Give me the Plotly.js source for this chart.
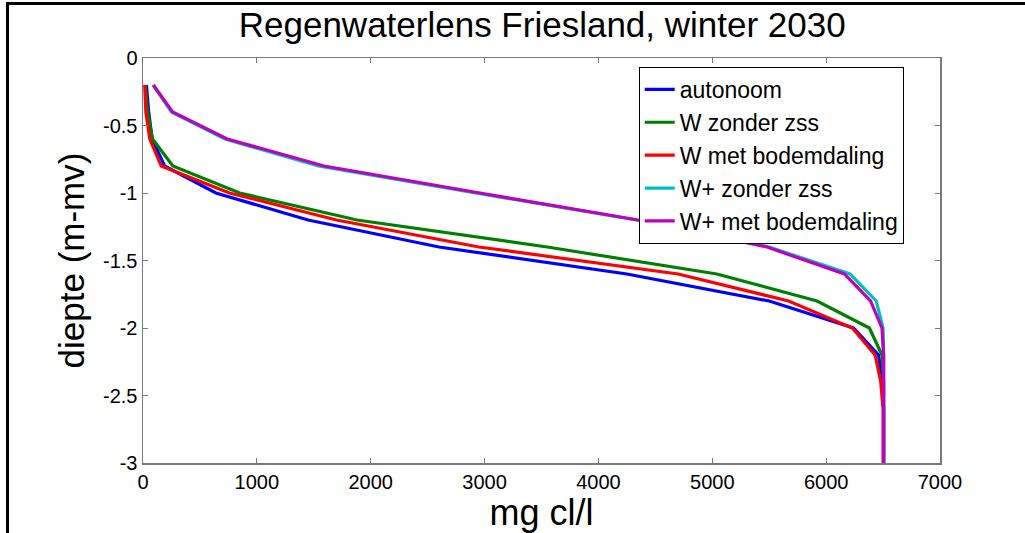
<!DOCTYPE html>
<html>
<head>
<meta charset="utf-8">
<script src="https://cdn.plot.ly/plotly-3.0.1.min.js"></script>
<style>
html,body{margin:0;padding:0;background:#fff;}
#wrap{position:relative;width:1025px;height:533px;overflow:hidden;}
#chart{position:absolute;left:0;top:0;width:1025px;height:533px;}
#frameL{position:absolute;left:6px;top:2px;width:3px;height:531px;background:#000;}
#frameT{position:absolute;left:6px;top:2px;width:1019px;height:3px;background:#000;}
</style>
</head>
<body>
<div id="wrap">
<div id="chart"></div>
<div id="frameL"></div>
<div id="frameT"></div>
</div>
<script>
// Series names
const seriesNames = ["autonoom", "W zonder zss", "W met bodemdaling", "W+ zonder zss", "W+ met bodemdaling"];

// Chloride concentration (mg cl/l) and depth (m-mv) per series
const autonoomX   = [30, 50, 80, 190, 640, 1450, 2600, 4250, 5500, 6240, 6460, 6495, 6505, 6505, 6505];
const autonoomY   = [-0.2, -0.4, -0.6, -0.8, -1.0, -1.2, -1.4, -1.6, -1.8, -2.0, -2.2, -2.4, -2.6, -2.8, -3.0];

const wZonderX    = [20, 40, 84, 262, 850, 1880, 3550, 5040, 5920, 6380, 6490, 6505, 6505, 6505, 6505];
const wZonderY    = [-0.2, -0.4, -0.6, -0.8, -1.0, -1.2, -1.4, -1.6, -1.8, -2.0, -2.2, -2.4, -2.6, -2.8, -3.0];

const wMetX       = [15, 25, 60, 160, 760, 1700, 2950, 4700, 5670, 6230, 6430, 6480, 6500, 6500, 6500];
const wMetY       = [-0.2, -0.4, -0.6, -0.8, -1.0, -1.2, -1.4, -1.6, -1.8, -2.0, -2.2, -2.4, -2.6, -2.8, -3.0];

const wPlusZonderX = [90, 250, 720, 1540, 2920, 4330, 5500, 6210, 6440, 6500, 6505, 6505, 6505, 6505, 6505];
const wPlusZonderY = [-0.2, -0.4, -0.6, -0.8, -1.0, -1.2, -1.4, -1.6, -1.8, -2.0, -2.2, -2.4, -2.6, -2.8, -3.0];

const wPlusMetX   = [90, 260, 740, 1590, 2960, 4350, 5480, 6160, 6390, 6490, 6505, 6505, 6505, 6505, 6505];
const wPlusMetY   = [-0.2, -0.4, -0.6, -0.8, -1.0, -1.2, -1.4, -1.6, -1.8, -2.0, -2.2, -2.4, -2.6, -2.8, -3.0];

// Axis ticks
const xTicks = [0, 1000, 2000, 3000, 4000, 5000, 6000, 7000];
const xTickLabels = ["0", "1000", "2000", "3000", "4000", "5000", "6000", "7000"];
const yTicks = [0, -0.5, -1, -1.5, -2, -2.5, -3];
const yTickLabels = ["0", "-0.5", "-1", "-1.5", "-2", "-2.5", "-3"];

const colors = ["#0000ff", "#008000", "#ff0000", "#00bfbf", "#bf00bf"];
const xs = [autonoomX, wZonderX, wMetX, wPlusZonderX, wPlusMetX];
const ys = [autonoomY, wZonderY, wMetY, wPlusZonderY, wPlusMetY];

const traces = seriesNames.map((n, i) => ({
  type: "scatter", mode: "lines", name: n,
  x: xs[i], y: ys[i],
  line: {color: colors[i], width: 3.2}
}));

const font = "Liberation Sans, Arial, sans-serif";
const axisCommon = {
  showgrid: false, zeroline: false,
  showline: true, linecolor: "#7a7a7a", linewidth: 1.5,
  mirror: "ticks", ticks: "inside", ticklen: 5, tickwidth: 1, tickcolor: "#7a7a7a",
  tickfont: {family: font, size: 20, color: "#000"}
};

const layout = {
  width: 1025, height: 533,
  margin: {l: 143, r: 85, t: 58, b: 70},
  paper_bgcolor: "#fff", plot_bgcolor: "#fff",
  showlegend: true,
  title: {text: "Regenwaterlens Friesland, winter 2030", font: {family: font, size: 35, color: "#000"},
          x: 0.529, xanchor: "center", y: 0.953, yanchor: "middle"},
  xaxis: Object.assign({}, axisCommon, {
    range: [0, 7000], tickvals: xTicks, ticktext: xTickLabels,
    title: {text: "mg cl/l", font: {family: font, size: 36, color: "#000"}, standoff: 2}
  }),
  yaxis: Object.assign({}, axisCommon, {
    range: [-3, 0], tickvals: yTicks, ticktext: yTickLabels,
    title: {text: "diepte (m-mv)", font: {family: font, size: 35, color: "#000"}, standoff: 8}
  }),
  legend: {
    x: 0.622, y: 0.978, xanchor: "left", yanchor: "top",
    bgcolor: "#fff", bordercolor: "#000", borderwidth: 1,
    font: {family: font, size: 23, color: "#000"},
    tracegroupgap: 0
  }
};

Plotly.newPlot("chart", traces, layout, {displayModeBar: false, staticPlot: true});
</script>
</body>
</html>
